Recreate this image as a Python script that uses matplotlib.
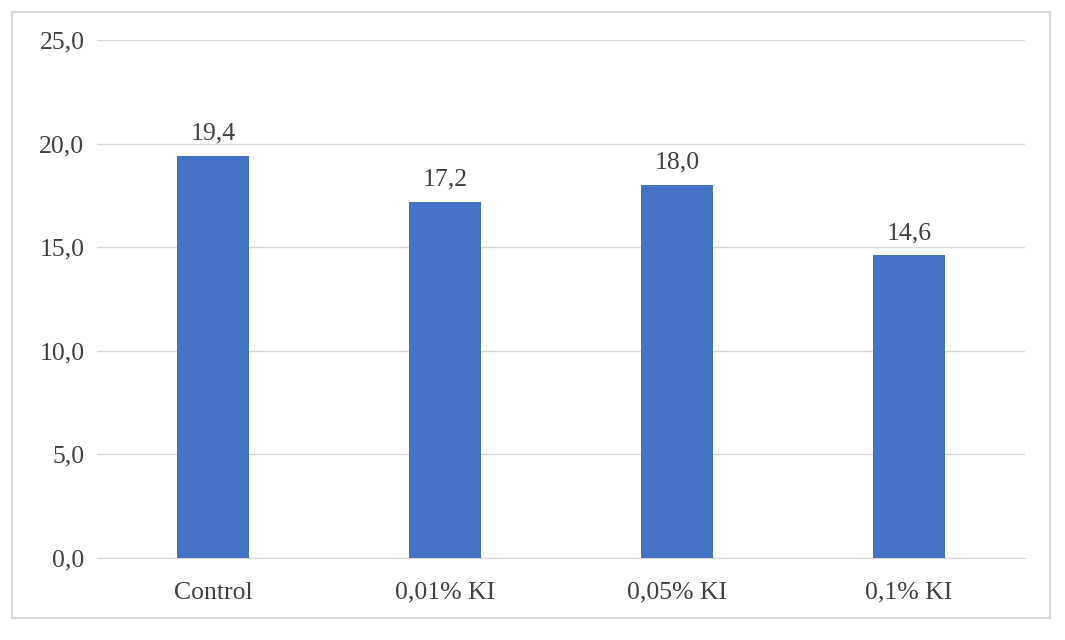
import matplotlib.pyplot as plt
from matplotlib.patches import Rectangle
from matplotlib.ticker import FuncFormatter

categories = ["Control", "0,01% KI", "0,05% KI", "0,1% KI"]
values = [19.4, 17.2, 18.0, 14.6]
yticks = [0, 5, 10, 15, 20, 25]

plt.rcParams['font.family'] = ['Liberation Serif', 'DejaVu Serif']
text_color = '#404040'
grid_color = '#d9d9d9'

fig = plt.figure(figsize=(10.65, 6.4), dpi=100)
fig.patches.append(Rectangle((12 / 1065, 1 - 618 / 640), 1038 / 1065, 606 / 640,
                             transform=fig.transFigure, fill=False,
                             edgecolor=grid_color, linewidth=1.5))

ax = fig.add_axes([97 / 1065, 1 - 558 / 640, 928 / 1065, 518 / 640])
x = range(len(categories))
bars = ax.bar(x, values, width=0.31, color='#4472C4', zorder=3)

for b, v in zip(bars, values):
    ax.text(b.get_x() + b.get_width() / 2, v + 0.55, f"{v:.1f}".replace('.', ','),
            ha='center', va='bottom', fontsize=18.5, color=text_color)

ax.set_xlim(-0.5, len(categories) - 0.5)
ax.set_ylim(0, 25)
ax.set_yticks(yticks)
ax.yaxis.set_major_formatter(FuncFormatter(lambda v, p: f"{v:.1f}".replace('.', ',')))
ax.set_xticks(list(x))
ax.set_xticklabels(categories)
ax.grid(axis='y', color=grid_color, linewidth=1, zorder=0)
for s in ['top', 'right', 'left']:
    ax.spines[s].set_visible(False)
ax.spines['bottom'].set_color(grid_color)
ax.tick_params(length=0, labelsize=18.5, colors=text_color)
ax.tick_params(axis='x', pad=17)
ax.tick_params(axis='y', pad=9)

fig.savefig('out.png', dpi=100)
